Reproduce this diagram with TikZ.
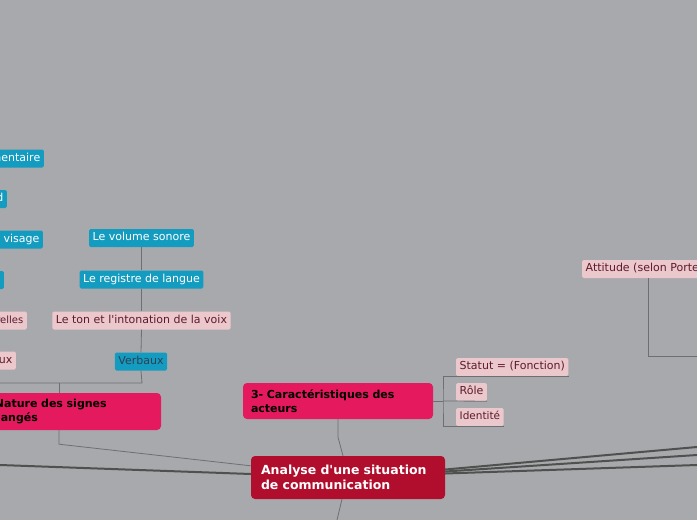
\documentclass[tikz,border=0pt]{standalone}
\usepackage{fontspec}
\setmainfont{DejaVu Sans}
\usetikzlibrary{
  positioning,
  calc
}
\definecolor{mapBg}{HTML}{A8A9AD}
\definecolor{mapBlue}{HTML}{149CC0}
\definecolor{mapPink}{HTML}{EBC8CC}
\definecolor{mapPinkText}{HTML}{5E1A2C}
\definecolor{mapHot}{HTML}{E4195E}
\definecolor{mapRed}{HTML}{B10D2C}
\definecolor{mapLine}{HTML}{6E6F72}
\definecolor{mapTrunk}{HTML}{4F514F}
\definecolor{verbText}{HTML}{2F3F55}
\tikzset{
  leaf/.style = {
    rounded corners=1.5pt,
    inner xsep=3.5pt,
    inner ysep=0pt,
    minimum height=18pt,
    text height=8.2pt,
    text depth=2.3pt,
    font=\fontsize{11}{13}\selectfont
  },
  bluebox/.style = {leaf, fill=mapBlue, text=white},
  pinkbox/.style = {leaf, fill=mapPink, text=mapPinkText}
}

\begin{document}
\begin{tikzpicture}[
    x=1pt,
    y=-1pt,
    subtopic/.style={
        fill=mapHot,
        rounded corners=4pt,
        text width=174pt,
        align=left,
        inner xsep=8pt,
        inner ysep=0pt,
        minimum height=36pt,
        font=\bfseries\fontsize{11}{13.5}\selectfont
    },
    central/.style={
        fill=mapRed,
        text=white,
        rounded corners=4pt,
        text width=174pt,
        align=left,
        inner xsep=10pt,
        inner ysep=0pt,
        minimum height=43pt,
        font=\bfseries\fontsize{12.5}{15.5}\selectfont
    },
    twig/.style={draw=mapLine, line width=0.8pt},
    branch/.style={draw=mapTrunk, line width=2pt}
]

    % Canvas
    \fill[mapBg] (0,0) rectangle (697,520);
    \useasboundingbox (0,0) rectangle (697,520);
    \clip (0,0) rectangle (697,520);

    % Central topic
    \node[central] (root) at (348,477.5) {Analyse d\textquotesingle une situation\\de communication};

    % Main subtopics
    \node[subtopic] (acteurs) at (338,401) {3- Caract\'eristiques des\\acteurs};
    \node[subtopic, minimum height=37pt] (signes) at (66,411.5) {2- Nature des signes\\\'echang\'es};

    % Characteristics of the actors
    \node[pinkbox, anchor=west] (statut) at (456,367) {Statut = (Fonction)};
    \node[pinkbox, anchor=west] (role) at (456,392) {R\^ole};
    \node[pinkbox, anchor=west, font=\fontsize{10.5}{12}\selectfont] (ident) at (456,417) {Identit\'e};

    % Verbal signs
    \node[bluebox] (volume) at (141.5,238) {Le volume sonore};
    \node[bluebox] (registre) at (141.5,279.5) {Le registre de langue};
    \node[pinkbox] (ton) at (141.5,320.5) {Le ton et l\textquotesingle intonation de la voix};
    \node[bluebox, text=verbText] (verbaux) at (141,361.5) {Verbaux};

    % Non verbal signs (cut by the left edge)
    \node[bluebox, anchor=east] (tenue) at (44,158.5) {Tenue vestimentaire};
    \node[bluebox, anchor=east] (regard) at (7,199) {Le regard};
    \node[bluebox, anchor=east] (visage) at (43,239.5) {Les expressions du visage};
    \node[bluebox, anchor=east] (gestes) at (4,280) {Les gestes};
    \node[pinkbox, anchor=east, font=\fontsize{10}{12}\selectfont] (cultur) at (27,320.5) {Les habitudes culturelles};
    \node[pinkbox, anchor=east] (nonverb) at (16,360.5) {Non verbaux};

    % Attitude branch (cut by the right edge)
    \node[pinkbox, anchor=west] (attitude) at (582,269) {Attitude (selon Porter)};

    % Free ends and joints
    \coordinate (edgeW) at (0,465);
    \coordinate (edgeS) at (337,520);
    \coordinate (edgeE1) at (697,447);
    \coordinate (edgeE2) at (697,455);
    \coordinate (edgeE3) at (697,465);
    \coordinate (edgeE4) at (697,356);
    \coordinate (edgeL) at (0,383);
    \coordinate (verbJ) at (142,383);
    \coordinate (signJ) at (59,383);
    \coordinate (actJ) at (443,401);
    \coordinate (attJ) at (648,356);

    % Thick branches from the central topic
    \draw[branch] (edgeW) -- ($(root.west)+(0,-3.5)$);
    \draw[branch] ($(root.east)+(0,-8)$) -- (edgeE1);
    \draw[branch] ($(root.east)+(0,-6)$) -- (edgeE2);
    \draw[branch] ($(root.east)+(0,-4)$) -- (edgeE3);

    % Thin links
    \draw[twig] ($(root.south)+(-6,0)$) -- (edgeS);
    \draw[twig] (acteurs.south) -- ++(0,18) -- ($(root.north)+(-5,0)$);
    \draw[twig] (signJ |- signes.south) -- ++(0,14) -- ($(root.north west)+(0,10)$);
    \draw[twig] (signJ) -- (signJ |- signes.north);

    % Verbal column
    \draw[twig] (volume.south) -- (registre.north);
    \draw[twig] (registre.south) -- (ton.north);
    \draw[twig] (ton.south) -- (verbaux.north);
    \draw[twig] (verbaux.south) -- (verbJ) -- (edgeL);

    % Actors bracket
    \draw[twig] (acteurs.east) -- (actJ);
    \draw[twig] (statut.south east) -| (actJ) |- (ident.south east);
    \draw[twig] (actJ) -- (role.south east);

    % Attitude link
    \draw[twig] (attitude.south west -| attJ) -- (attJ) -- (edgeE4);

\end{tikzpicture}
\end{document}
